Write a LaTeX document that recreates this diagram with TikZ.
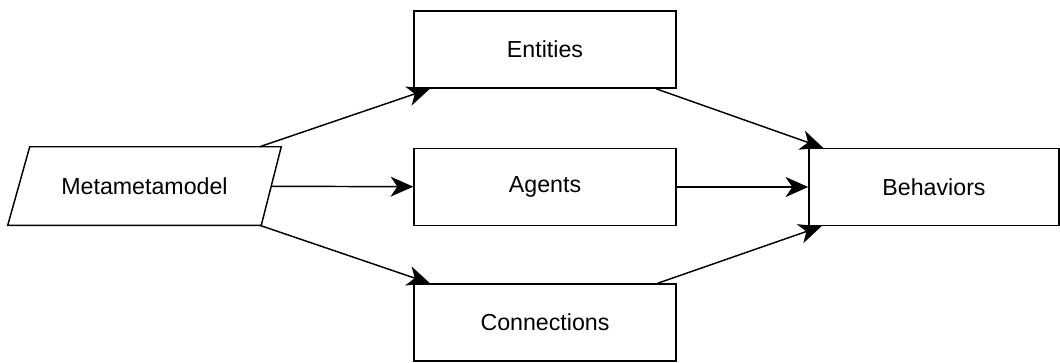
\documentclass[tikz,border=0pt]{standalone}
\usepackage{fontspec}
\setmainfont{Liberation Sans}
\usetikzlibrary{arrows.meta}
\begin{document}
\begin{tikzpicture}[x=0.75pt,y=-0.75pt,
  every node/.style={font=\fontsize{17.4}{20}\selectfont},
  box/.style={draw,line width=1.1pt,rectangle,inner sep=0pt,
    minimum width=196.5pt,minimum height=57.75pt},
  paratext/.style={rectangle,inner sep=0pt,
    minimum width=189.75pt,minimum height=58.5pt},
  outline/.style={line width=1.1pt,line join=miter},
  link/.style={line width=1.1pt,-{Stealth[length=17pt,width=15pt,inset=5pt]}}]
\useasboundingbox (0,0) rectangle (1060,362);
% parallelogram: text node plus its slanted outline
\node[paratext] (meta) at (144.5,186) {Metametamodel};
\draw[outline] ([xshift=9pt]meta.north west) -- ([xshift=7.5pt]meta.north east)
  -- ([xshift=-7.5pt]meta.south east) -- ([xshift=-7.5pt]meta.south west) -- cycle;
\node[box] (ent) at (545,49.5) {Entities};
\node[box] (agt) at (545,187) {Agents};
\node[box] (con) at (545,322.5) {Connections};
\node[box,minimum width=187.5pt] (beh) at (934,187) {Behaviors};
\draw[link] (meta) -- (ent);
\draw[link] (meta) -- (agt);
\draw[link] (meta) -- (con);
\draw[link] (ent) -- (beh);
\draw[link] (agt) -- (beh);
\draw[link] (con) -- (beh);
\end{tikzpicture}
\end{document}
